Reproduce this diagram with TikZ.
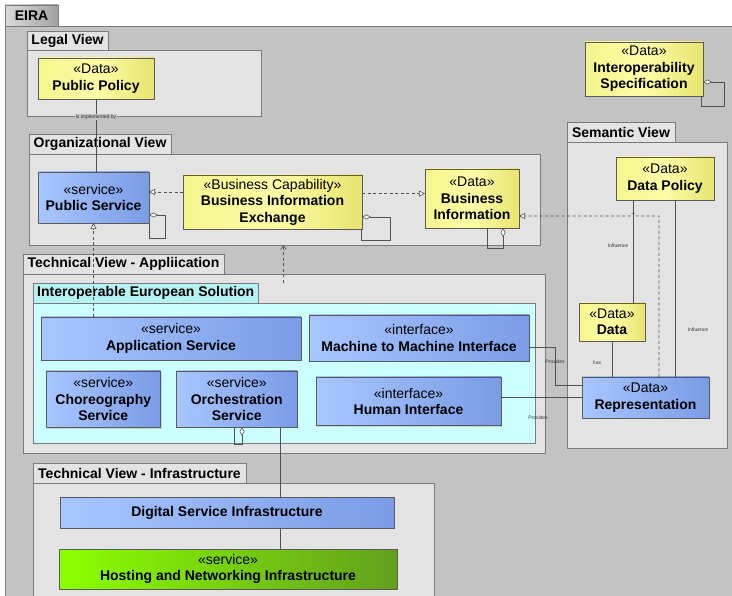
\documentclass[tikz,border=0pt]{standalone}
\usepackage{fontspec}
\setmainfont{Liberation Sans}
\usetikzlibrary{arrows.meta,calc,shadows}

\definecolor{bgray}{HTML}{C3C3C3}
\definecolor{pkg}{HTML}{E3E3E3}
\definecolor{pkgline}{HTML}{7A7A7A}
\definecolor{boxline}{HTML}{5A5A5A}
\definecolor{iesbody}{HTML}{CCFFFF}
\definecolor{iestab}{HTML}{B6F2F2}
\definecolor{yelL}{HTML}{F5F58E}
\definecolor{yelM}{HTML}{FCFCA6}
\definecolor{yelR}{HTML}{E8E470}
\definecolor{bluL}{HTML}{A8C6FF}
\definecolor{bluR}{HTML}{7A9CE6}
\definecolor{grnL}{HTML}{8CFF00}
\definecolor{grnR}{HTML}{62A01C}
\definecolor{tabL}{HTML}{DADADA}
\definecolor{tabR}{HTML}{A2A2A2}
\definecolor{conn}{HTML}{505050}

\newcommand\mybox[7]{%
  \node[#6, anchor=north west, minimum width={(#4-#2)*1pt}, minimum height={(#5-#3)*1pt}] (#1) at (#2,#3) {#7};}

\tikzset{
  elem/.style={draw=boxline, line width=0.7pt, inner sep=1pt, outer sep=0pt, align=center,
    font=\fontsize{14}{16.5}\selectfont,
    drop shadow={shadow xshift=1.2pt, shadow yshift=-1.2pt, opacity=0.3}},
  yel/.style={elem, left color=yelL, right color=yelR, middle color=yelM},
  blu/.style={elem, left color=bluL, right color=bluR},
  grn/.style={elem, left color=grnL, right color=grnR},
  pkgbody/.style={draw=pkgline, fill=pkg, line width=0.7pt, outer sep=0pt, inner sep=0pt},
  pkgtab/.style={pkgbody, font=\bfseries\fontsize{14}{16}\selectfont},
  cn/.style={draw=conn, line width=0.6pt},
  dsh/.style={cn, dash pattern=on 3pt off 2.5pt},
  real/.style={-{Triangle[fill=white, length=6pt, width=6pt]}},
  agg/.style={{Diamond[fill=white, length=9pt, width=5pt]}-},
  dep/.style={-{Straight Barb[length=4pt, width=6pt]}},
  lbl/.style={font=\fontsize{5}{5.5}\selectfont, text=black!80, inner sep=0.5pt}
}

\begin{document}
\begin{tikzpicture}[x=1pt, y=-1pt]
\useasboundingbox (0,0) rectangle (732,596);
\clip (0,0) rectangle (732,596);
\fill[white] (0,0) rectangle (732,596);

% EIRA frame
\mybox{eirab}{5}{26}{736}{600}{pkgbody, fill=bgray}{}
\mybox{eirat}{5}{5}{58}{26}{pkgtab, left color=tabL, right color=tabR}{EIRA}

% packages
\mybox{legb}{27}{50}{261}{116}{pkgbody}{}
\mybox{legt}{27}{31}{108}{50}{pkgtab}{Legal View}
\mybox{orgb}{29}{154}{540}{245}{pkgbody}{}
\mybox{orgt}{29}{134}{171}{154}{pkgtab}{Organizational View}
\mybox{tapb}{23}{274}{545}{453}{pkgbody}{}
\mybox{tapt}{23}{254}{224}{274}{pkgtab}{Technical View - Appliication}
\mybox{iesb}{33.5}{303}{535}{443}{pkgbody, fill=iesbody}{}
\mybox{iest}{33.5}{283}{258}{303}{pkgtab, fill=iestab}{Interoperable European Solution}
\mybox{tinb}{33}{483}{434}{602}{pkgbody}{}
\mybox{tint}{33}{463}{246}{483}{pkgtab}{Technical View - Infrastructure}
\mybox{semb}{567}{142}{727}{448}{pkgbody}{}
\mybox{semt}{567}{122}{675}{142}{pkgtab}{Semantic View}

% elements
\mybox{pp}{38}{58}{154}{99}{yel}{«Data»\\\textbf{Public Policy}}
\mybox{is}{585}{42}{703}{96}{yel}{«Data»\\\textbf{Interoperability}\\\textbf{Specification}}
\mybox{ps}{38}{172}{149}{223}{blu}{«service»\\\textbf{Public Service}}
\mybox{bie}{183}{175}{362}{229}{yel}{«Business Capability»\\\textbf{Business Information}\\\textbf{Exchange}}
\mybox{bi}{425}{169}{519}{228}{yel}{«Data»\\\textbf{Business}\\\textbf{Information}}
\mybox{dp}{616}{157}{714}{200}{yel}{«Data»\\\textbf{Data Policy}}
\mybox{data}{579}{303}{645}{341}{yel}{«Data»\\\textbf{Data}}
\mybox{rep}{582}{377}{709}{418}{blu}{«Data»\\\textbf{Representation}}
\mybox{app}{41}{317}{301}{360}{blu}{«service»\\\textbf{Application Service}}
\mybox{m2m}{309}{315}{529}{361}{blu}{«interface»\\\textbf{Machine to Machine Interface}}
\mybox{chor}{46}{371}{160.5}{427.5}{blu}{«service»\\\textbf{Choreography}\\\textbf{Service}}
\mybox{orch}{176.5}{371}{297}{427}{blu}{«service»\\\textbf{Orchestration}\\\textbf{Service}}
\mybox{hi}{316}{377}{501}{425.5}{blu}{«interface»\\\textbf{Human Interface}}
\mybox{dsi}{60}{497}{394}{528}{blu}{\textbf{Digital Service Infrastructure}}
\mybox{host}{59}{549}{397}{589}{grn}{«service»\\\textbf{Hosting and Networking Infrastructure}}

% connectors
\draw[cn] (pp.south) -- (pp.south |- ps.north)
  node[lbl, pos=0.25, fill=bgray] (lim) {is implemented by};
\draw[dsh, real] (ps.south |- app.north) -- (ps.south);
\draw[dsh, real] ($(bie.north west)+(0,17)$) -- ($(ps.north east)+(0,20)$);
\draw[dsh, real] ($(bie.north east)+(0,18.6)$) -- ($(bi.north west)+(0,24.6)$);
\draw[dsh, dep] ($(iesb.north west)+(250,-20)$) -- ($(orgb.south west)+(254.5,0)$);
\draw[dsh, real] ($(rep.north west)+(77,0)$) |- ($(dp.south west)+(20,16)$)
  arc[start angle=0, end angle=180, radius=3pt] -- ($(bi.north east)+(0,47)$);

% self aggregations
\draw[cn, agg] ($(ps.north east)+(0,43)$) -- ++(16,0) -- ++(0,23) -| (ps.south east);
\draw[cn, agg] ($(bie.north east)+(0,42)$) -- ++(28,0) -- ++(0,23) -| ($(bie.south east)+(-1,0)$);
\draw[cn, agg] ($(bi.south west)+(78,0)$) -- ++(0,20) -| ($(bi.south west)+(62,0)$);
\draw[cn, agg] ($(orch.south west)+(65.5,0)$) -- ++(0,17) -| ($(orch.south west)+(58,0)$);
\draw[cn, agg] ($(is.north east)+(0,40)$) -- ++(21,0) -- ++(0,24) -| ($(is.south east)+(-2,0)$);

% infrastructure
\draw[cn] ($(orch.south west)+(103.5,0)$) -- ($(dsi.north west)+(220,0)$);
\draw[cn] ($(dsi.south west)+(220,0)$) -- ($(host.north west)+(221,0)$);

% provides
\draw[cn] ($(m2m.north east)+(0,32)$) -| ($(rep.north west)+(-27,8)$) -- ($(rep.north west)+(0,8)$);
\node[lbl] (lpr1) at (555,362) {Provides};
\draw[cn] (hi.east |- rep.west) -- (rep.west);
\node[lbl] (lpr2) at (538,418) {Provides};

% semantic
\draw[cn] ($(dp.south west)+(17,0)$) -- ($(data.north west)+(54,0)$);
\node[lbl] (linf1) at (618,246) {Influence};
\draw[cn] ($(dp.south west)+(59,0)$) -- ($(rep.north west)+(93,0)$);
\node[lbl] (linf2) at (698,330) {Influence};
\draw[cn] (data.south) -- (data.south |- rep.north);
\node[lbl] (lhas) at (597,363) {has};
\end{tikzpicture}
\end{document}
